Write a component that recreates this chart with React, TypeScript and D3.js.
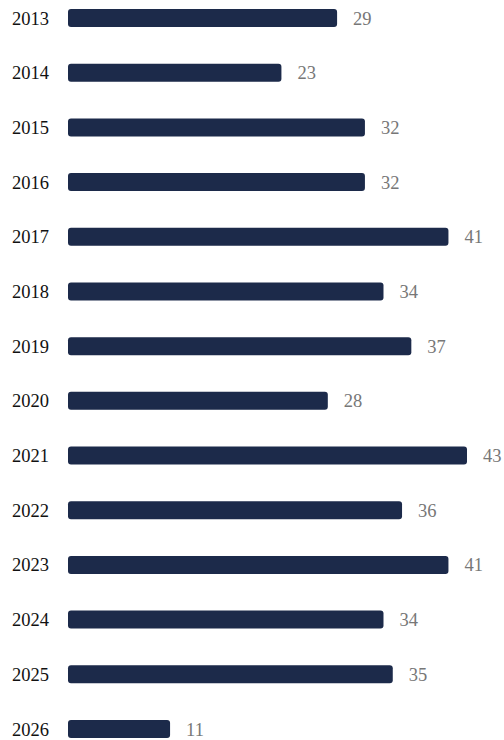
import React from "react";
import * as d3 from "d3";

const years = ["2013","2014","2015","2016","2017","2018","2019","2020","2021","2022","2023","2024","2025","2026"];
const values = [29, 23, 32, 32, 41, 34, 37, 28, 43, 36, 41, 34, 35, 11];

export default function App() {
  const W = 504, H = 740;
  const x = d3.scaleLinear().domain([0, 43]).range([68, 467]);
  const y = d3.scalePoint<string>().domain(years).range([18, 729]);
  const bh = 18;
  return (
    <svg width={W} height={H} style={{ position: "absolute", left: 0, top: 0 }} fontFamily="'Liberation Serif', serif">
      {years.map((yr, i) => {
        const cy = y(yr)!;
        const v = values[i];
        return (
          <g key={yr}>
            <text x={12} y={cy + 6.5} fontSize={18.5} fill="#111">{yr}</text>
            <rect x={x(0)} y={cy - bh / 2} width={x(v) - x(0)} height={bh} rx={3} fill="#1c2a4a" />
            <text x={x(v) + 16} y={cy + 6.5} fontSize={18.5} fill="#777">{v}</text>
          </g>
        );
      })}
    </svg>
  );
}
